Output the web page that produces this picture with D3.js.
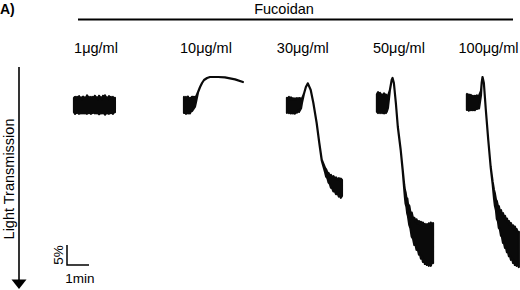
<!DOCTYPE html>
<html>
<head>
<meta charset="utf-8">
<script src="https://cdn.jsdelivr.net/npm/d3@7"></script>
<style>
body{margin:0;background:#fff;}
svg{display:block;}
text{font-family:Arial,"Liberation Sans",sans-serif;fill:#000;}
</style>
</head>
<body>
<div id="chart"></div>
<script>
// doses of fucoidan, one trace each
var doses = ["1\u03bcg/ml","10\u03bcg/ml","30\u03bcg/ml","50\u03bcg/ml","100\u03bcg/ml"];
// start of each trace on the shared time axis (min)
var traceStart = [0, 5.0, 9.68, 13.77, 17.86];
// trace points: [time from start (min), mean change in light transmission (%), half width of noise (%)]
var trace1 = [[0,0,1.8],[0.05,0.1,2.1],[0.09,0.1,1.6],[0.14,0,2.0],[0.18,-0.1,1.6],[0.23,0,2.2],[0.27,0,1.7],[0.32,0.1,2.0],[0.36,0.1,1.6],[0.41,0,2.1],[0.45,0,1.7],[0.5,0.1,2.0],[0.55,0.1,1.6],[0.59,-0.1,2.3],[0.64,-0.1,1.8],[0.68,0,2.0],[0.73,0,1.6],[0.77,0.1,2.1],[0.82,0.1,1.7],[0.86,0,2.0],[0.91,0,1.6],[0.95,-0.1,2.2],[1.0,-0.1,1.7],[1.05,0.1,2.0],[1.09,0.1,1.6],[1.14,0,2.3],[1.18,0,1.8],[1.23,0.1,2.0],[1.27,0.1,1.6],[1.32,-0.1,2.2],[1.36,-0.1,1.7],[1.41,0,2.4],[1.45,0,1.8],[1.5,0.1,2.0],[1.55,0.1,1.6],[1.59,0,2.2],[1.64,0,1.7],[1.68,0,2.0],[1.73,0,1.6],[1.77,0.1,2.1],[1.82,0.1,1.7],[1.86,0,1.8]];
var trace2 = [[0,0,2.0],[0.05,0.1,1.7],[0.09,0.1,2.1],[0.14,0,1.6],[0.18,0,2.1],[0.23,0.2,1.6],[0.27,0.2,1.9],[0.32,-0.1,1.6],[0.36,-0.25,1.8],[0.5,-0.8,1.2],[0.55,-1.5,0.6],[0.64,-3.25,0],[0.73,-4.5,0],[0.82,-5.5,0],[0.91,-6.25,0],[1.05,-6.75,0],[1.18,-7,0],[1.55,-7,0],[1.86,-6.9,0],[2.32,-6.4,0],[2.68,-5.75,0]];
var trace3 = [[0,0.1,1.9],[0.05,0,1.6],[0.09,0,2.0],[0.14,0.1,1.6],[0.18,0.1,2.0],[0.23,0.2,1.6],[0.27,0.2,1.9],[0.32,0.2,1.6],[0.36,0.25,1.9],[0.41,0.1,1.5],[0.45,0.1,1.8],[0.5,0,1.5],[0.55,0,1.7],[0.64,-0.4,1.2],[0.68,-1,0.5],[0.77,-2.75,0],[0.86,-4.5,0],[0.95,-5.4,0],[1.08,-3.75,0],[1.2,-0.5,0],[1.35,4.5,0],[1.47,9.5,0],[1.58,13.75,0.1],[1.73,16.25,0.5],[1.78,17,0.9],[1.84,17.6,0.7],[1.89,18.2,1.2],[1.95,18.75,1.0],[2.0,19.1,1.6],[2.05,19.4,1.3],[2.11,19.7,1.9],[2.18,20,1.6],[2.23,20.2,2.1],[2.3,20.4,1.7],[2.36,20.6,2.3],[2.41,20.75,1.9],[2.45,20.8,2.4],[2.5,20.75,2.0]];
var trace4 = [[0,-0.5,2.2],[0.05,-0.6,2.6],[0.09,-0.6,2.2],[0.14,-0.5,2.5],[0.18,-0.5,2.1],[0.23,-0.3,2.3],[0.27,-0.25,2.0],[0.32,-0.4,2.5],[0.36,-0.4,2.1],[0.41,-0.3,2.3],[0.45,-0.3,1.9],[0.5,-0.75,1.5],[0.59,-3.75,0],[0.67,-6.25,0],[0.71,-6.75,0],[0.77,-5.5,0],[0.86,-0.5,0],[0.95,5.5,0],[1.08,11.25,0],[1.17,16.25,0.1],[1.24,20.5,0.5],[1.27,22.1,0.9],[1.3,23.2,1.4],[1.34,24.3,1.1],[1.38,25.3,1.9],[1.41,26.25,1.5],[1.47,27.6,2.4],[1.52,28.8,2.0],[1.58,29.9,3.0],[1.64,30.9,2.5],[1.7,31.6,3.4],[1.75,32.0,2.9],[1.8,32.4,3.8],[1.86,32.9,3.2],[1.91,33.2,4.2],[1.95,33.5,3.6],[2.0,33.8,4.6],[2.05,34.1,3.9],[2.09,34.3,4.9],[2.14,34.5,4.1],[2.18,34.75,5.0],[2.23,34.8,4.2],[2.27,34.9,5.1],[2.32,34.9,4.3],[2.36,34.9,5.3],[2.41,34.8,4.4],[2.45,34.8,5.4],[2.5,34.75,4.5],[2.55,34.5,5.0]];
var trace5 = [[0,-0.75,2.0],[0.05,-0.7,1.7],[0.09,-0.6,2.0],[0.14,-0.6,1.7],[0.18,-0.6,1.9],[0.23,-0.5,1.6],[0.27,-0.5,1.8],[0.32,-0.5,1.6],[0.36,-0.5,1.8],[0.41,-0.6,1.5],[0.45,-0.7,1.7],[0.5,-0.7,1.5],[0.55,-0.75,1.6],[0.64,-3,0.5],[0.67,-5.5,0],[0.71,-7,0],[0.77,-5.5,0],[0.86,1.25,0],[0.97,8.75,0],[1.08,15.5,0],[1.17,19.5,0.25],[1.23,22.25,1.0],[1.27,23.6,1.5],[1.32,25.0,1.3],[1.36,26.25,2.2],[1.41,27.2,1.9],[1.45,28.0,2.7],[1.5,28.8,2.3],[1.55,29.5,3.2],[1.59,30.1,2.8],[1.64,30.75,3.7],[1.68,31.2,3.2],[1.73,31.7,4.0],[1.77,32.1,3.4],[1.82,32.6,4.2],[1.86,33.0,3.6],[1.91,33.4,4.4],[1.95,33.75,3.8],[2.0,34.1,4.6],[2.05,34.4,3.9],[2.1,34.8,4.7],[2.14,35.0,4.0],[2.18,35.2,4.8],[2.23,35.4,4.0],[2.26,35.6,4.6],[2.3,35.8,4.0],[2.36,36.1,4.4]];
var traces = [trace1, trace2, trace3, trace4, trace5];

var w = 520, h = 290;
var svg = d3.select("#chart").append("svg")
  .attr("width", w)
  .attr("height", h);

// 1 min = 22px, 5% = 20px (from the scale bar)
var x = d3.scaleLinear().domain([0, 20.3]).range([74, 74 + 20.3*22]);
var y = d3.scaleLinear().domain([0, 40]).range([105, 265]);

var band = d3.area()
  .x(function(d){ return d.x; })
  .y0(function(d){ return y(d[1] - d[2]); })
  .y1(function(d){ return y(d[1] + d[2]); })
  .curve(d3.curveLinear);

traces.forEach(function(tr, k){
  var pts = tr.map(function(d){ var p = d.slice(); p.x = x(traceStart[k] + d[0]); return p; });
  svg.append("path")
    .attr("class","trace")
    .attr("d", band(pts))
    .attr("fill", "#0a0a0a")
    .attr("stroke", "#0a0a0a")
    .attr("stroke-width", 2.2)
    .attr("stroke-linejoin","round");
});

// panel letter and treatment
svg.append("text").attr("x",0).attr("y",14)
  .style("font-size","14px").style("font-weight","bold").text("A)");
svg.append("text").attr("x",284).attr("y",14)
  .attr("text-anchor","middle").style("font-size","14.5px").text("Fucoidan");
svg.append("line").attr("x1",78).attr("x2",513).attr("y1",19.5).attr("y2",19.5)
  .attr("stroke","#000").attr("stroke-width",2);

// dose labels
var labelNudge = [1, 1, 0.72, 1, 0.98];
svg.selectAll(".dose").data(doses).enter().append("text")
  .attr("class","dose")
  .attr("x", function(d,i){ return x(traceStart[i] + labelNudge[i]); })
  .attr("y", 53)
  .attr("text-anchor","middle")
  .style("font-size","14.5px")
  .text(String);

// light transmission arrow
svg.append("line").attr("x1",19).attr("x2",19).attr("y1",67).attr("y2",282)
  .attr("stroke","#000").attr("stroke-width",1.6);
svg.append("path").attr("d","M11.5,279.5L26.5,279.5L19,289Z").attr("fill","#000");
svg.append("text")
  .attr("transform","translate(13.5,179) rotate(-90)")
  .attr("text-anchor","middle")
  .style("font-size","14.5px")
  .text("Light Transmission");

// scale bar
var sbx = 67, sby = 265;
svg.append("path")
  .attr("d","M"+sbx+","+(sby - (y(5) - y(0)))+"V"+sby+"H"+(sbx + x(1) - x(0)))
  .attr("fill","none").attr("stroke","#000").attr("stroke-width",1.5);
svg.append("text")
  .attr("transform","translate(63,255) rotate(-90)")
  .attr("text-anchor","middle")
  .style("font-size","13.5px")
  .text("5%");
svg.append("text").attr("x",80).attr("y",283)
  .attr("text-anchor","middle")
  .style("font-size","13.5px")
  .text("1min");
</script>
</body>
</html>
